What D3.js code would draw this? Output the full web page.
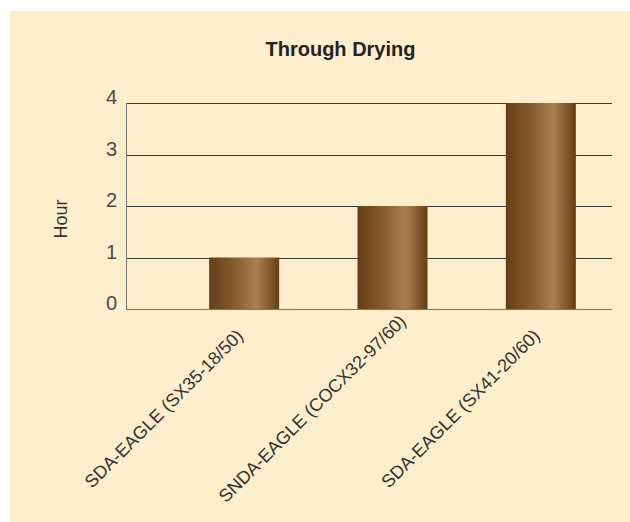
<!DOCTYPE html>
<html><head><meta charset="utf-8">
<script src="https://cdn.jsdelivr.net/npm/d3@7"></script>
<style>body{margin:0;background:#fff;}svg{display:block;font-family:"Liberation Sans",Arial,sans-serif;}</style>
</head><body><svg id="c" width="630" height="522"></svg>
<script>
const categories = ["SDA-EAGLE (SX35-18/50)", "SNDA-EAGLE (COCX32-97/60)", "SDA-EAGLE (SX41-20/60)"];
const hours = [1, 2, 4];
const yTicks = [0, 1, 2, 3, 4];
const title = "Through Drying";
const yLabel = "Hour";

const svg = d3.select("#c");
svg.append("rect").attr("x", 10).attr("y", 11).attr("width", 620).attr("height", 511).attr("fill", "#fdefcc");

const defs = svg.append("defs");
const g = defs.append("linearGradient").attr("id", "bar").attr("x1", "0%").attr("x2", "100%");
[[0, "#673d15"], [0.35, "#855a2f"], [0.68, "#aa7f50"], [1, "#673d15"]].forEach(([o, c]) =>
  g.append("stop").attr("offset", o).attr("stop-color", c));

const y = d3.scaleLinear().domain([0, 4]).range([309, 103]);
const x = d3.scaleBand().domain(categories).range([170, 615]).paddingInner(0.528).paddingOuter(0.264);

// grid
svg.append("g").selectAll("line").data(yTicks.filter(d => d > 0)).join("line")
  .attr("x1", 127).attr("x2", 612).attr("y1", d => Math.round(y(d)) + 0.5).attr("y2", d => Math.round(y(d)) + 0.5)
  .attr("stroke", "#3a3a3a").attr("stroke-width", 1);

// bars
svg.append("g").selectAll("rect").data(hours).join("rect")
  .attr("x", (d, i) => x(categories[i])).attr("width", x.bandwidth())
  .attr("y", d => y(d)).attr("height", d => y(0) - y(d))
  .attr("fill", "url(#bar)");

// axes lines
svg.append("line").attr("x1", 126.5).attr("x2", 126.5).attr("y1", y(4)).attr("y2", y(0) + 0.5).attr("stroke", "#777").attr("stroke-width", 1);
svg.append("line").attr("x1", 126).attr("x2", 612).attr("y1", Math.round(y(0)) + 0.5).attr("y2", Math.round(y(0)) + 0.5).attr("stroke", "#777").attr("stroke-width", 1);

// y tick labels
svg.append("g").selectAll("text").data(yTicks).join("text")
  .attr("x", 117).attr("y", d => y(d) + 1).attr("text-anchor", "end")
  .attr("font-size", 20).attr("fill", "#4a4a4a").text(d => d);

// y label
svg.append("text").attr("transform", "translate(67,219) rotate(-90)").attr("text-anchor", "middle")
  .attr("font-size", 18).attr("fill", "#333").text(yLabel);

// x labels (rotated, anchored at their middle)
svg.append("g").selectAll("text").data(categories).join("text")
  .attr("transform", d => `translate(${x(d) + x.bandwidth() / 2 - 76},${413}) rotate(-45)`)
  .attr("text-anchor", "middle").attr("font-size", 18).attr("fill", "#333").text(d => d);

// title
svg.append("text").attr("x", 340.5).attr("y", 56).attr("text-anchor", "middle")
  .attr("font-size", 20).attr("font-weight", "bold").attr("fill", "#222").text(title);
</script></body></html>
